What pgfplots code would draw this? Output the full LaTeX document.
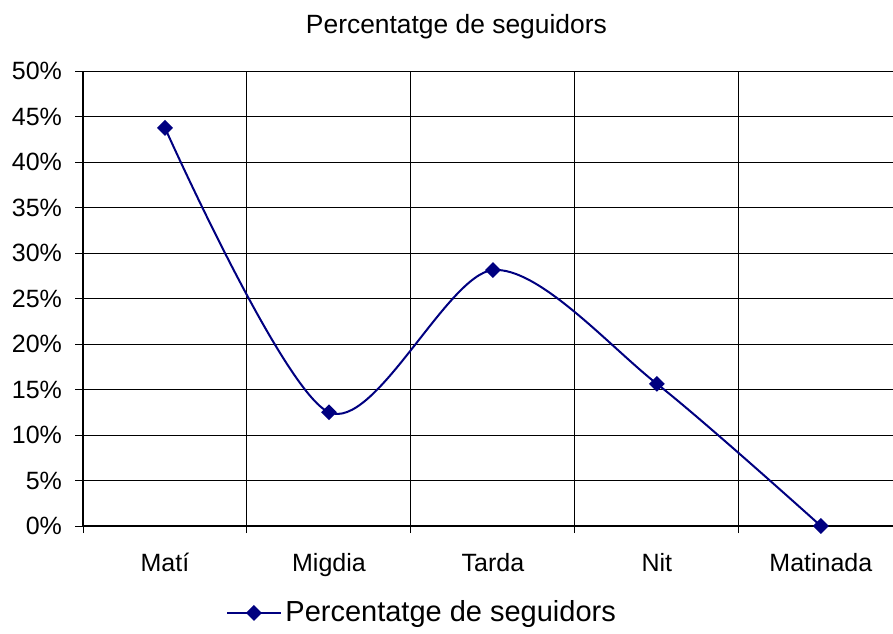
\documentclass[border=0pt]{standalone}
\usepackage{fontspec}
\setmainfont{Liberation Sans}
\usepackage{pgfplots}
\pgfplotsset{compat=1.18}
\definecolor{navyline}{RGB}{0,0,128}
\begin{document}
\begin{tikzpicture}
\begin{axis}[
  scale only axis, width=405pt, height=227.5pt,
  xmin=-0.5, xmax=4.44, ymin=0, ymax=50,
  axis x line=bottom, axis y line=left,
  axis line style={-, black, line width=0.6pt},
  xtick={0,1,2,3,4},
  xticklabels={Matí,Migdia,Tarda,Nit,Matinada},
  major x tick style={draw=none},
  minor xtick={-0.5,0.5,1.5,2.5,3.5},
  xminorgrids,
  minor x grid style={black, line width=0.5pt},
  ytick={0,5,10,15,20,25,30,35,40,45,50},
  yticklabels={0\%,5\%,10\%,15\%,20\%,25\%,30\%,35\%,40\%,45\%,50\%},
  ymajorgrids,
  major y grid style={black, line width=0.5pt},
  tick align=outside,
  major tick length=4pt, minor tick length=3.5pt,
  tick style={black, line width=0.5pt},
  ticklabel style={font=\fontsize{12.5}{15}\selectfont},
  xticklabel style={yshift=-6pt},
  yticklabel style={xshift=-3pt},
  title={Percentatge de seguidors},
  title style={at={(axis description cs:0.461,1.072)}, anchor=center, font=\fontsize{13.2}{15}\selectfont},
  legend style={draw=none, at={(axis description cs:0.42,-0.191)}, anchor=center, font=\fontsize{14.5}{17}\selectfont, inner sep=0pt},
  legend image code/.code={\draw[mark repeat=2,mark phase=2] plot coordinates {(0cm,0cm)(0.465cm,0cm)(0.93cm,0cm)};},
]
\addplot[navyline, line width=1pt, smooth, mark=square*, mark size=2.3pt, mark options={rotate=45, fill=navyline}]
  coordinates {(0,43.75)(1,12.5)(2,28.125)(3,15.625)(4,0)};
\addlegendentry{Percentatge de seguidors}
\end{axis}
\pgfresetboundingbox
\path (-41.5pt,-53.5pt) rectangle (405pt,263pt);
\end{tikzpicture}
\end{document}
